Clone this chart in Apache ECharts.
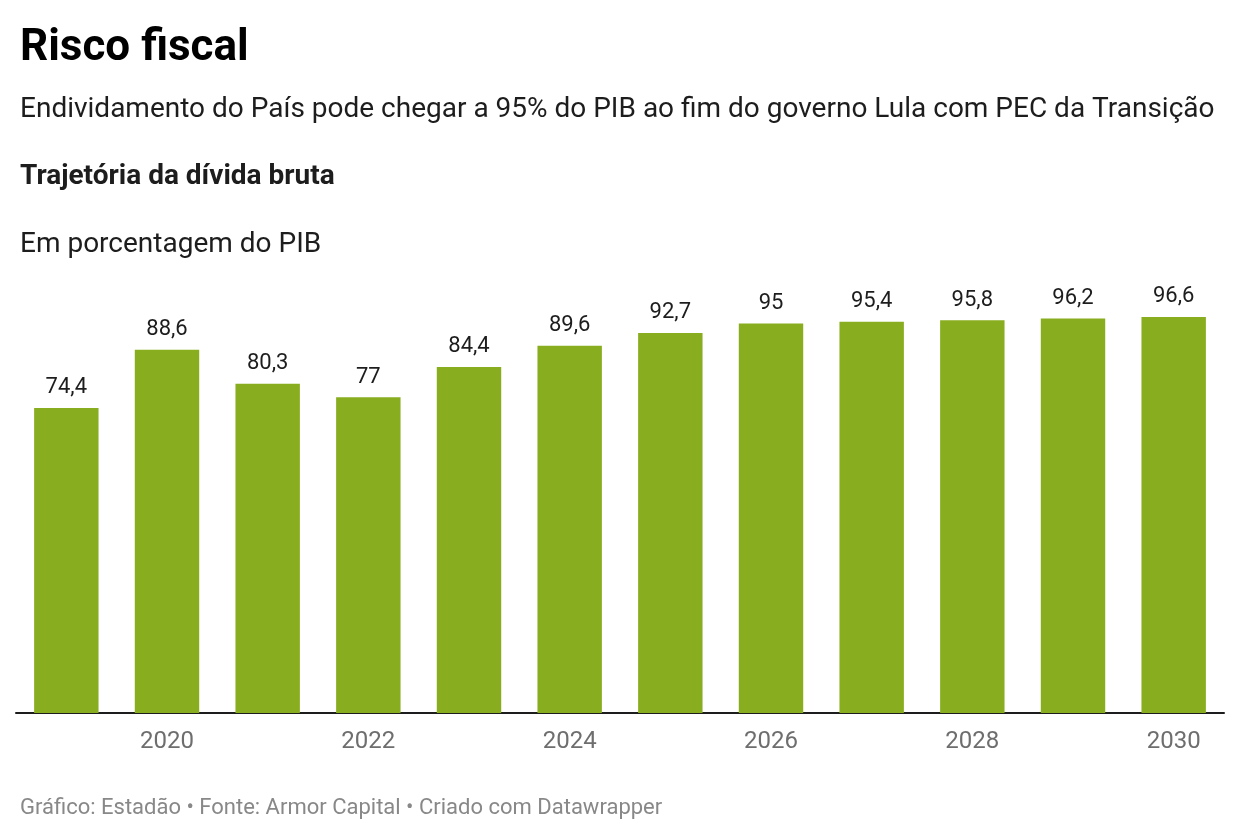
<!DOCTYPE html>
<html>
<head>
<meta charset="utf-8">
<script src="https://cdn.jsdelivr.net/npm/echarts@6/dist/echarts.min.js"></script>
<style>
html,body{margin:0;padding:0;background:#fff;}
#chart{width:1240px;height:840px;}
</style>
</head>
<body>
<div id="chart"></div>
<script>
const years = ['2019','2020','2021','2022','2023','2024','2025','2026','2027','2028','2029','2030'];
const debtPctGdp = [74.4, 88.6, 80.3, 77, 84.4, 89.6, 92.7, 95, 95.4, 95.8, 96.2, 96.6];

const FONT = 'Roboto, "Noto Sans", sans-serif';
const chart = echarts.init(document.getElementById('chart'), null, {renderer: 'canvas'});
chart.setOption({
  animation: false,
  backgroundColor: '#ffffff',
  title: [
    {text: 'Risco fiscal', left: 20, top: 24, padding: 0,
     textStyle: {fontFamily: FONT, fontSize: 44, fontWeight: 'bold', color: '#000', lineHeight: 50}},
    {text: 'Endividamento do País pode chegar a 95% do PIB ao fim do governo Lula com PEC da Transição', left: 20, top: 93, padding: 0,
     textStyle: {fontFamily: FONT, fontSize: 28, fontWeight: 'normal', color: '#1d1d1d', lineHeight: 34}},
    {text: 'Trajetória da dívida bruta', left: 20, top: 160, padding: 0,
     textStyle: {fontFamily: FONT, fontSize: 28, fontWeight: 'bold', color: '#1d1d1d', lineHeight: 34}},
    {text: 'Em porcentagem do PIB', left: 20, top: 228, padding: 0,
     textStyle: {fontFamily: FONT, fontSize: 28, fontWeight: 'normal', color: '#1d1d1d', lineHeight: 34}},
    {text: 'Gráfico: Estadão • Fonte: Armor Capital • Criado com Datawrapper', left: 20, top: 795, padding: 0,
     textStyle: {fontFamily: FONT, fontSize: 22, fontWeight: 'normal', color: '#888888', lineHeight: 26}}
  ],
  grid: {left: 16, right: 16, top: 303, bottom: 127, containLabel: false},
  xAxis: {
    type: 'category',
    data: years,
    axisLine: {show: true, lineStyle: {color: '#1d1d1d', width: 2}},
    axisTick: {show: false},
    axisLabel: {
      interval: function (i) { return i % 2 === 1; },
      fontFamily: FONT, fontSize: 24, color: '#6e6e6e', margin: 15, lineHeight: 28
    }
  },
  yAxis: {type: 'value', min: 0, max: 100, show: false, splitLine: {show: false}},
  series: [{
    type: 'bar',
    data: debtPctGdp,
    barWidth: '64%',
    itemStyle: {color: '#88ae1f'},
    label: {
      show: true, position: 'top', distance: 7,
      fontFamily: FONT, fontSize: 22, color: '#1d1d1d', lineHeight: 26,
      formatter: function (p) { return String(p.value).replace('.', ','); }
    }
  }]
});
</script>
</body>
</html>
